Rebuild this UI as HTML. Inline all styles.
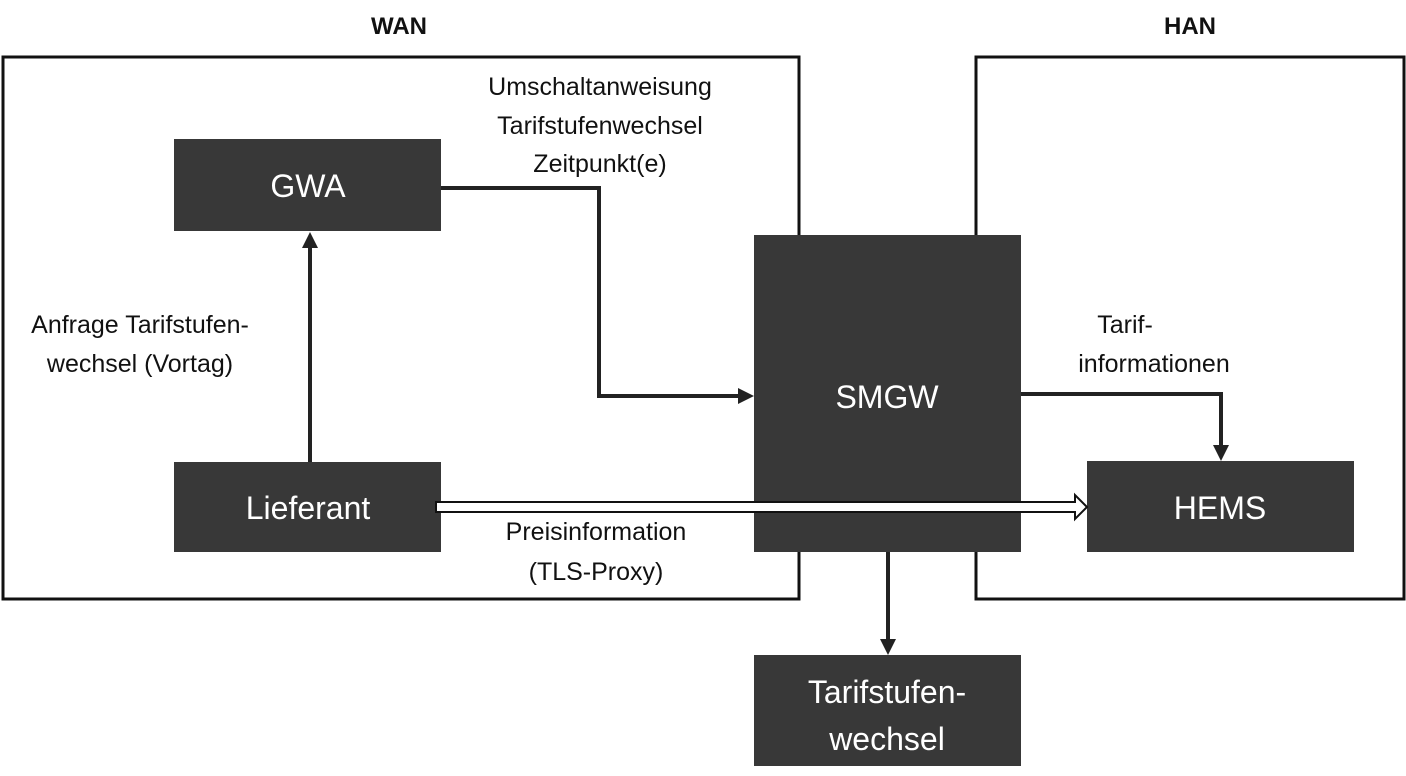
<!DOCTYPE html>
<html><head><meta charset="utf-8"><style>
html,body{margin:0;padding:0;background:#fff;}
svg{display:block;}
text{font-family:"Liberation Sans",sans-serif;}
</style></head><body>
<svg width="1406" height="776" viewBox="0 0 1406 776" xmlns="http://www.w3.org/2000/svg">
<!-- frames -->
<rect x="3" y="57" width="796" height="542" fill="none" stroke="#111" stroke-width="3"/>
<rect x="976" y="57" width="428" height="542" fill="none" stroke="#111" stroke-width="3"/>
<text x="399" y="34" font-size="24" font-weight="bold" text-anchor="middle" fill="#111">WAN</text>
<text x="1190" y="34" font-size="24" font-weight="bold" text-anchor="middle" fill="#111">HAN</text>
<!-- boxes -->
<rect x="174" y="139" width="267" height="92" fill="#383838"/>
<rect x="174" y="462" width="267" height="90" fill="#383838"/>
<rect x="754" y="235" width="267" height="317" fill="#383838"/>
<rect x="1087" y="461" width="267" height="91" fill="#383838"/>
<rect x="754" y="655" width="267" height="111" fill="#383838"/>
<g fill="#fff" font-size="32" text-anchor="middle">
<text x="308" y="197">GWA</text>
<text x="308" y="519">Lieferant</text>
<text x="887" y="408">SMGW</text>
<text x="1220" y="519">HEMS</text>
<text x="887" y="703">Tarifstufen-</text>
<text x="887" y="750">wechsel</text>
</g>
<!-- connectors -->
<g stroke="#222" stroke-width="4" fill="none">
<polyline points="441,188 599,188 599,396 740,396"/>
<line x1="310" y1="462" x2="310" y2="245"/>
<polyline points="1021,394 1221,394 1221,448"/>
<line x1="888" y1="552" x2="888" y2="642"/>
</g>
<g fill="#222">
<polygon points="754,396 738,388 738,404"/>
<polygon points="310,232 302,248 318,248"/>
<polygon points="1221,461 1213,445 1229,445"/>
<polygon points="888,655 880,639 896,639"/>
</g>
<!-- hollow arrow -->
<polygon points="436,502 1075,502 1075,495 1087,507 1075,519 1075,512 436,512" fill="#fff" stroke="#111" stroke-width="2"/>
<!-- labels -->
<g fill="#111" font-size="25" text-anchor="middle">
<text x="600" y="95">Umschaltanweisung</text>
<text x="600" y="134">Tarifstufenwechsel</text>
<text x="600" y="172">Zeitpunkt(e)</text>
<text x="140" y="333">Anfrage Tarifstufen-</text>
<text x="140" y="372">wechsel (Vortag)</text>
<text x="1125" y="333">Tarif-</text>
<text x="1154" y="372">informationen</text>
<text x="596" y="540">Preisinformation</text>
<text x="596" y="580">(TLS-Proxy)</text>
</g>
</svg>
</body></html>
